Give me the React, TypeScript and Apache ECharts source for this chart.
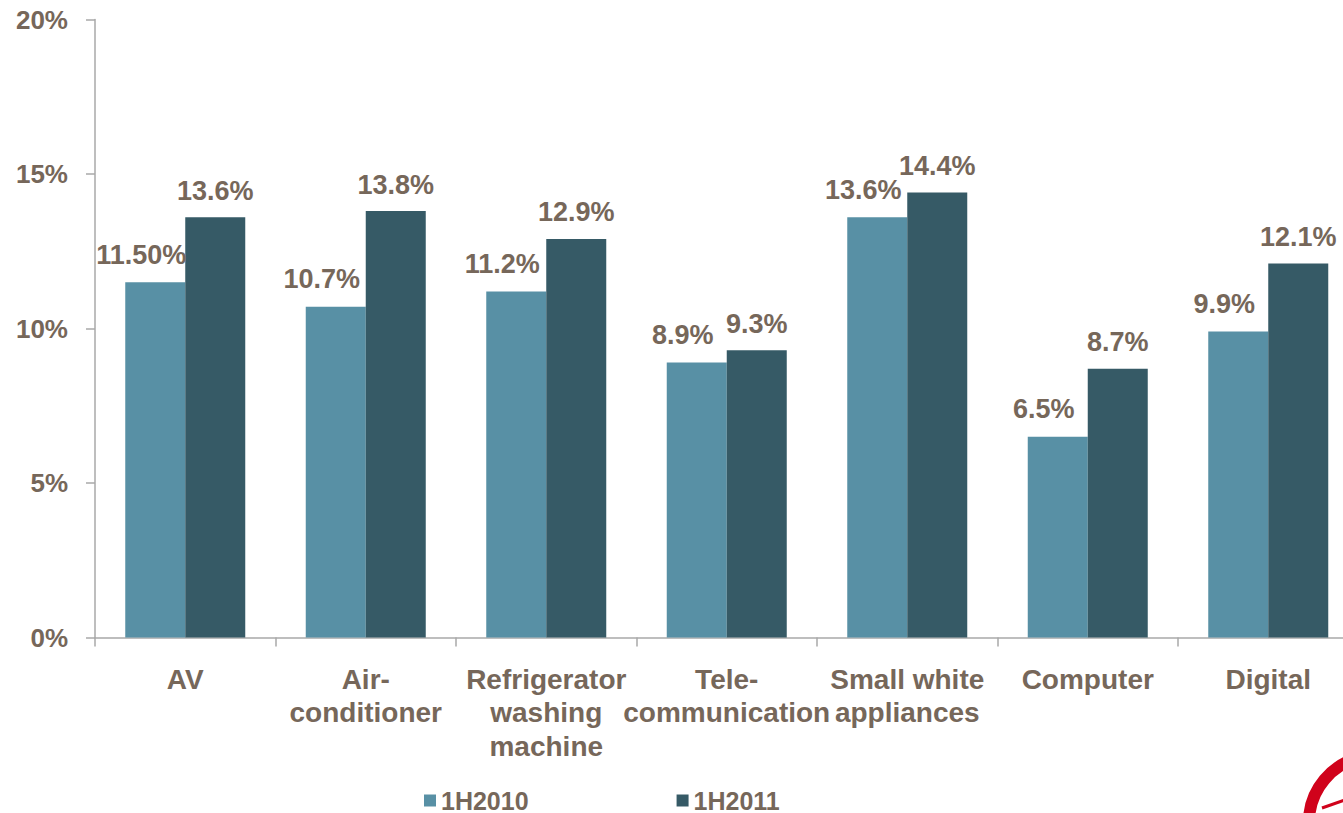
import React, { useEffect, useRef } from "react";
import * as echarts from "echarts";

const categories = [
  "AV",
  "Air-\nconditioner",
  "Refrigerator\nwashing\nmachine",
  "Tele-\ncommunication",
  "Small white\nappliances",
  "Computer",
  "Digital",
];
const seriesNames = ["1H2010", "1H2011"];
const values2010 = [11.5, 10.7, 11.2, 8.9, 13.6, 6.5, 9.9];
const values2011 = [13.6, 13.8, 12.9, 9.3, 14.4, 8.7, 12.1];
const labels2010 = ["11.50%", "10.7%", "11.2%", "8.9%", "13.6%", "6.5%", "9.9%"];
const labels2011 = ["13.6%", "13.8%", "12.9%", "9.3%", "14.4%", "8.7%", "12.1%"];
const yTicks = [0, 5, 10, 15, 20];

const TEXT = "#76675A";
const LIGHT = "#5890A5";
const DARK = "#365A66";
const AXIS = "#A8A8A8";
const FONT = "'Liberation Sans', Arial, sans-serif";

export default function App() {
  const ref = useRef<HTMLDivElement>(null);

  useEffect(() => {
    if (!ref.current) return;
    const chart = echarts.init(ref.current, undefined, { renderer: "svg" });
    chart.setOption({
      animation: false,
      backgroundColor: "#ffffff",
      textStyle: { fontFamily: FONT },
      grid: { left: 95, top: 19.5, width: 1263.5, bottom: 175.5 },
      legend: {
        data: seriesNames,
        left: 424,
        top: 788,
        padding: 0,
        icon: "rect",
        itemWidth: 12,
        itemHeight: 12,
        itemGap: 148,
        textStyle: { color: TEXT, fontSize: 25, fontWeight: "bold", fontFamily: FONT },
      },
      xAxis: {
        type: "category",
        data: categories,
        axisLine: { lineStyle: { color: AXIS, width: 1.5 } },
        axisTick: { show: true, length: 9, lineStyle: { color: AXIS, width: 1.5 } },
        axisLabel: {
          interval: 0,
          margin: 25,
          color: TEXT,
          fontSize: 28,
          fontWeight: "bold",
          fontFamily: FONT,
          lineHeight: 33.5,
          align: "center",
        },
      },
      yAxis: {
        type: "value",
        min: yTicks[0],
        max: yTicks[yTicks.length - 1],
        interval: 5,
        splitLine: { show: false },
        axisLine: { show: true, lineStyle: { color: AXIS, width: 1.5 } },
        axisTick: { show: true, length: 9, lineStyle: { color: AXIS, width: 1.5 } },
        axisLabel: {
          margin: 27,
          color: TEXT,
          fontSize: 26,
          fontWeight: "bold",
          fontFamily: FONT,
          formatter: (v: number) => `${v}%`,
        },
      },
      series: [
        {
          name: seriesNames[0],
          type: "bar",
          data: values2010,
          barWidth: 60,
          barGap: "0%",
          itemStyle: { color: LIGHT },
          label: {
            show: true,
            position: "top",
            distance: 14,
            offset: [-14, 0],
            color: TEXT,
            fontSize: 27,
            fontWeight: "bold",
            fontFamily: FONT,
            formatter: (p: any) => labels2010[p.dataIndex],
          },
        },
        {
          name: seriesNames[1],
          type: "bar",
          data: values2011,
          barWidth: 60,
          barGap: "0%",
          itemStyle: { color: DARK },
          label: {
            show: true,
            position: "top",
            distance: 13,
            color: TEXT,
            fontSize: 27,
            fontWeight: "bold",
            fontFamily: FONT,
            formatter: (p: any) => labels2011[p.dataIndex],
          },
        },
      ],
      graphic: [
        {
          type: "arc",
          shape: { cx: 1375, cy: 822, r: 66, startAngle: Math.PI, endAngle: (260 * Math.PI) / 180, clockwise: true },
          style: { stroke: "#D0021B", lineWidth: 12, fill: "none" },
          silent: true,
        },
        {
          type: "line",
          shape: { x1: 1322, y1: 808, x2: 1345, y2: 800 },
          style: { stroke: "#D0021B", lineWidth: 3 },
          silent: true,
        },
      ],
    });
    return () => chart.dispose();
  }, []);

  return (
    <div
      style={{
        position: "fixed",
        left: 0,
        top: 0,
        width: 1343,
        height: 813,
        overflow: "hidden",
        background: "#fff",
      }}
    >
      <div ref={ref} style={{ width: 1400, height: 813 }} />
    </div>
  );
}
